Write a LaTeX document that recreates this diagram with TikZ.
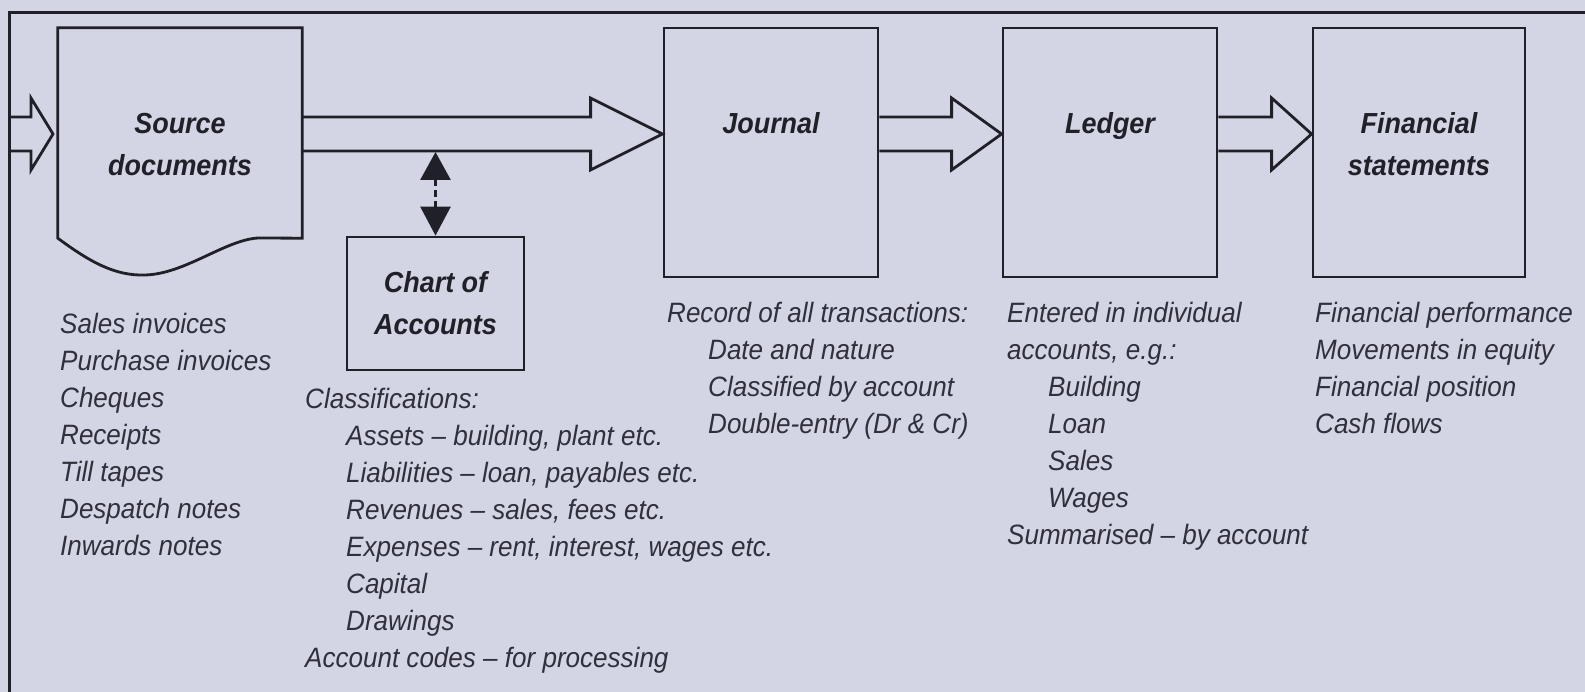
\documentclass[tikz,border=0pt]{standalone}
\usepackage{fontspec}
\setmainfont{Liberation Sans}[FakeStretch=0.93]
\usetikzlibrary{calc,arrows.meta}
\definecolor{bg}{RGB}{211,213,228}
\definecolor{ink}{RGB}{32,32,40}
\definecolor{txt}{RGB}{48,48,60}
\newcommand\lnhi{\rule{0pt}{23pt}}
\newcommand\ind{\hspace*{41pt}}
\newcommand\blockarr[3]{\draw[blk] (#1 |- 0,117) -- ($(#3 |- 0,117)+(-#2,0)$) -- ($(#3 |- 0,98)+(-#2,0)$) -- (#3 |- 0,134) -- ($(#3 |- 0,170)+(-#2,0)$) -- ($(#3 |- 0,151)+(-#2,0)$) -- (#1 |- 0,151);}
\begin{document}
\begin{tikzpicture}[x=1pt,y=-1pt,
  ln/.style={draw=ink, line width=2.8pt},
  boxnode/.style={ln, rectangle, inner sep=0pt},
  ghost/.style={rectangle, inner sep=0pt},
  lbl/.style={font=\fontsize{29}{42}\selectfont\bfseries\itshape, text=ink, inner sep=0pt, align=center, anchor=north},
  lst/.style={font=\fontsize{28}{37}\selectfont\itshape, text=txt, inner sep=0pt, align=left, anchor=north west},
  blk/.style={ln, line join=miter, miter limit=10},
]
\path[use as bounding box, fill=bg] (0,0) rectangle (1585,692);
% frame
\coordinate (ftl) at (9.3,12.7);
\coordinate (ftr) at (1585,12.7);
\coordinate (fbl) at (9.3,692);
\draw[ln, line join=miter] (ftr) -- (ftl) -- (fbl);
% boxes
\node[ghost, minimum width=244pt, minimum height=210pt] (src) at (180,133) {};
\draw[ln, line join=miter] (src.south west) -- (src.north west) -- (src.north east) -- (src.south east) -- (258,238) .. controls (225,240) and (185,274) .. (145,275) .. controls (115,276) and (90,262) .. (src.south west) -- cycle;
\node[boxnode, minimum width=214pt, minimum height=249pt] (jour) at (771,152.5) {};
\node[boxnode, minimum width=214pt, minimum height=249pt] (ledg) at (1110,152.5) {};
\node[boxnode, minimum width=212pt, minimum height=249pt] (fins) at (1419,152.5) {};
\node[boxnode, minimum width=177pt, minimum height=133pt] (coa) at (435.5,303.5) {};
% box labels
\node[lbl] (srcl) at (src.north |- 0,110) {\lnhi Source\\documents};
\node[lbl] (jourl) at (jour.north |- 0,110) {\lnhi Journal};
\node[lbl] (ledgl) at (ledg.north |- 0,110) {\lnhi Ledger};
\node[lbl] (finsl) at (fins.north |- 0,110) {\lnhi Financial\\statements};
\node[lbl] (coal) at (coa.north |- 0,269) {\lnhi Chart of\\Accounts};
% block arrows
\coordinate (intip) at (53,134);
\blockarr{ftl}{22}{intip}
\blockarr{src.east}{72}{jour.west}
\blockarr{jour.east}{50}{ledg.west}
\blockarr{ledg.east}{40}{fins.west}
% double arrow
\draw[ln, dash pattern=on 7pt off 4pt, {Triangle[width=30pt,length=28pt]}-{Triangle[width=30pt,length=29pt]}] (coa.north |- 0,152) -- (coa.north);
% text lists
\node[lst] (srclist) at (60,310) {\lnhi Sales invoices\\Purchase invoices\\Cheques\\Receipts\\Till tapes\\Despatch notes\\Inwards notes};
\node[lst] (coalist) at (305,385) {\lnhi Classifications:\\\ind Assets -- building, plant etc.\\\ind Liabilities -- loan, payables etc.\\\ind Revenues -- sales, fees etc.\\\ind Expenses -- rent, interest, wages etc.\\\ind Capital\\\ind Drawings\\Account codes -- for processing};
\node[lst] (jourlist) at (667,299) {\lnhi Record of all transactions:\\\ind Date and nature\\\ind Classified by account\\\ind Double-entry (Dr \& Cr)};
\node[lst] (ledglist) at (1007,299) {\lnhi Entered in individual\\accounts, e.g.:\\\ind Building\\\ind Loan\\\ind Sales\\\ind Wages\\Summarised -- by account};
\node[lst] (finslist) at (1315,299) {\lnhi Financial performance\\Movements in equity\\Financial position\\Cash flows};
\end{tikzpicture}
\end{document}
